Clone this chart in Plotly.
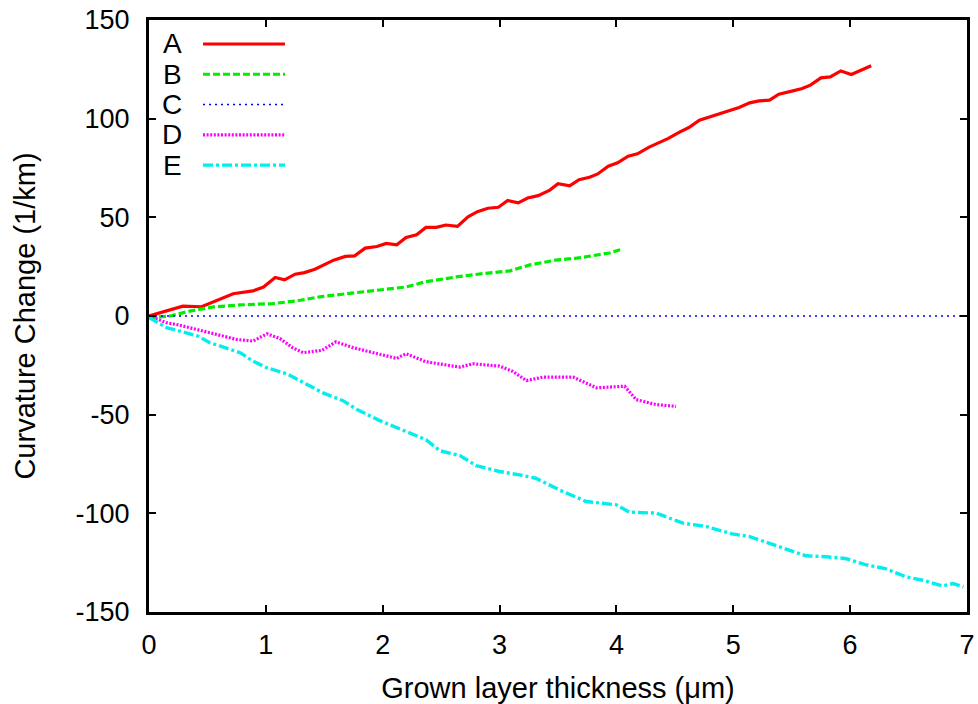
import plotly.graph_objects as go

# Curvature change vs grown layer thickness, five samples
a_x = [0.0, 0.15, 0.29, 0.45, 0.58, 0.72, 0.89, 0.98, 1.08, 1.16, 1.25, 1.33, 1.42, 1.58, 1.68,
       1.76, 1.85, 1.95, 2.03, 2.12, 2.20, 2.29, 2.37, 2.46, 2.54, 2.64, 2.73, 2.81, 2.90, 2.99,
       3.07, 3.16, 3.24, 3.33, 3.43, 3.50, 3.60, 3.68, 3.77, 3.84, 3.93, 4.01, 4.10, 4.18, 4.28,
       4.44, 4.54, 4.62, 4.71, 4.88, 5.05, 5.14, 5.22, 5.31, 5.39, 5.51, 5.59, 5.66, 5.75, 5.83,
       5.92, 6.01, 6.18]
a_y = [0.0, 2.5, 5.0, 4.7, 8.0, 11.3, 12.7, 14.7, 19.5, 18.3, 21.2, 22.0, 23.7, 28.3, 30.2,
       30.5, 34.4, 35.2, 36.8, 36.1, 39.8, 41.2, 44.9, 44.9, 46.1, 45.4, 50.3, 52.9, 54.6, 55.1,
       58.5, 57.3, 59.8, 61.0, 63.8, 67.0, 66.0, 69.1, 70.3, 72.0, 75.9, 77.6, 81.0, 82.2, 85.6,
       89.9, 93.2, 95.5, 99.2, 102.6, 105.7, 108.0, 109.0, 109.4, 112.4, 114.1, 115.3, 117.0,
       120.7, 121.2, 124.2, 122.4, 126.8]

b_x = [0.0, 0.18, 0.35, 0.55, 0.78, 1.06, 1.26, 1.46, 1.69, 1.92, 2.20, 2.37, 2.63, 2.86, 3.09,
       3.26, 3.48, 3.66, 3.80, 3.94, 4.05]
b_y = [-0.8, 0.0, 2.5, 4.6, 5.6, 6.3, 7.6, 9.7, 11.3, 12.7, 14.7, 17.4, 19.8, 21.5, 22.9,
       25.9, 28.3, 29.3, 30.5, 31.9, 33.9]

c_x = [0.0, 1.0, 2.0, 3.0, 4.0, 5.0, 6.0, 7.0]
c_y = [0.0, 0.0, 0.0, 0.0, 0.0, 0.0, 0.0, 0.0]

d_x = [0.0, 0.15, 0.26, 0.41, 0.58, 0.75, 0.89, 1.01, 1.12, 1.23, 1.32, 1.48, 1.60, 1.75, 1.92,
       2.12, 2.20, 2.37, 2.66, 2.77, 3.00, 3.11, 3.23, 3.37, 3.63, 3.83, 4.07, 4.17, 4.34, 4.51]
d_y = [0.0, -3.4, -4.6, -6.8, -9.3, -11.9, -12.7, -9.0, -11.4, -16.1, -18.6, -17.4, -13.1, -16.1,
       -18.6, -21.5, -19.1, -23.2, -25.9, -24.2, -25.4, -28.0, -32.7, -31.0, -31.0, -36.4, -35.6,
       -42.4, -44.9, -45.8]

e_x = [0.0, 0.15, 0.29, 0.42, 0.52, 0.66, 0.78, 0.89, 1.01, 1.18, 1.32, 1.49, 1.66, 1.78, 1.97,
       2.17, 2.37, 2.49, 2.66, 2.80, 3.00, 3.17, 3.31, 3.51, 3.74, 4.00, 4.11, 4.34, 4.57, 4.77,
       4.99, 5.14, 5.31, 5.51, 5.62, 5.79, 5.96, 6.13, 6.30, 6.48, 6.62, 6.79, 6.88, 6.97]
e_y = [-0.8, -5.9, -8.0, -10.2, -13.5, -16.1, -18.6, -22.9, -26.3, -29.3, -33.9, -39.0, -42.9,
       -47.4, -52.9, -57.6, -62.7, -68.3, -70.7, -75.8, -78.8, -80.5, -82.2, -88.1, -94.0, -95.7,
       -99.4, -99.9, -105.0, -106.7, -110.4, -111.8, -115.2, -119.1, -121.5, -122.0, -122.9,
       -126.0, -128.0, -132.2, -133.9, -136.8, -135.6, -137.3]

x_ticks = [0, 1, 2, 3, 4, 5, 6, 7]
y_ticks = [-150, -100, -50, 0, 50, 100, 150]
y_tick_text = ["-150", "-100", "-50", "0", "50", "100", "150"]

labels = ["A", "B", "C", "D", "E"]
colors = ["#ff0000", "#00ee00", "#0000ff", "#ff00ff", "#00eeee"]
widths = [3.2, 3.2, 1.6, 3.2, 3.4]
dashes = ["solid", "7px,3px", "2px,4px", "2px,1.6px", "10px,3px,3px,3px"]
series = [(a_x, a_y), (b_x, b_y), (c_x, c_y), (d_x, d_y), (e_x, e_y)]

FONT = "Liberation Sans, Arial, sans-serif"
TICK_FS = 27
TITLE_FS = 29
KEY_FS = 28

fig = go.Figure()
for (xs, ys), name, col, w, d in zip(series, labels, colors, widths, dashes):
    fig.add_trace(go.Scatter(x=xs, y=ys, mode="lines", name=name,
                             line=dict(color=col, width=w, dash=d),
                             showlegend=False))

# Key in the upper-left corner: label first, then the line sample
L, R, T, B = 149, 967, 19.5, 612
def px(x):
    return (x - L) / (R - L)
def py(y):
    return (B - y) / (B - T)

row_y = [43.5, 73.8, 104.1, 134.4, 164.7]
for name, col, w, d, yy in zip(labels, colors, widths, dashes, row_y):
    fig.add_annotation(x=px(184), y=py(yy), xref="paper", yref="paper",
                       text=name, showarrow=False, xanchor="right", yanchor="middle",
                       font=dict(family=FONT, size=KEY_FS, color="black"))
    fig.add_shape(type="line", xref="paper", yref="paper",
                  x0=px(203), x1=px(285), y0=py(yy), y1=py(yy),
                  line=dict(color=col, width=w, dash=d))

axis_common = dict(showgrid=False, zeroline=False, showline=True, linecolor="black",
                   linewidth=3, mirror="allticks", ticks="inside", ticklen=7,
                   tickwidth=2, tickcolor="black", automargin=False,
                   tickfont=dict(family=FONT, size=TICK_FS, color="black"))

fig.update_xaxes(range=[0, 7], tickvals=x_ticks, ticklabelstandoff=7,
                 title=dict(text="Grown layer thickness (\u03bcm)",
                            font=dict(family=FONT, size=TITLE_FS, color="black"), standoff=19),
                 **axis_common)
fig.update_yaxes(range=[-150, 150], tickvals=y_ticks, ticktext=y_tick_text,
                 ticklabelstandoff=11,
                 title=dict(text="Curvature Change (1/km)",
                            font=dict(family=FONT, size=TITLE_FS, color="black"), standoff=32),
                 **axis_common)

fig.update_layout(width=978, height=704, plot_bgcolor="white", paper_bgcolor="white",
                  margin=dict(l=L, r=978 - R, t=T, b=704 - B, pad=0),
                  showlegend=False)

fig.write_html("out.html")
